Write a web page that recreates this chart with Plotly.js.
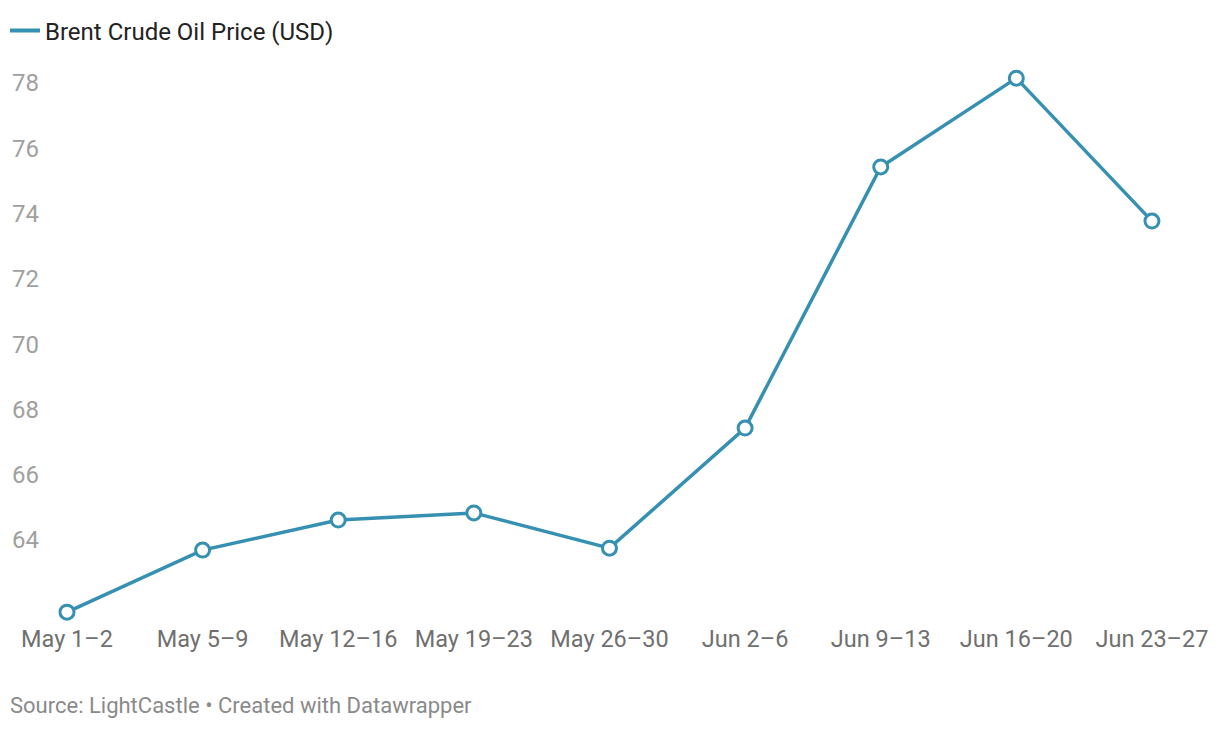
<!DOCTYPE html>
<html>
<head>
<meta charset="utf-8">
<script src="https://cdn.plot.ly/plotly-3.0.1.min.js"></script>
<style>
html,body{margin:0;padding:0;background:#fff;}
#chart{width:1220px;height:730px;}
</style>
</head>
<body>
<div id="chart"></div>
<script>
const weeks = ["May 1–2","May 5–9","May 12–16","May 19–23","May 26–30","Jun 2–6","Jun 9–13","Jun 16–20","Jun 23–27"];
const brentPrice = [61.79, 63.69, 64.61, 64.83, 63.75, 67.43, 75.43, 78.15, 73.77];
const yTicks = [64, 66, 68, 70, 72, 74, 76, 78];
const seriesName = "Brent Crude Oil Price (USD)";
const sourceText = "Source: LightCastle • Created with Datawrapper";

const xIdx = weeks.map((_, i) => i);
const color = "#3690b2";

const trace = {
  x: xIdx,
  y: brentPrice,
  type: "scatter",
  mode: "lines+markers",
  name: seriesName,
  showlegend: false,
  line: {color: color, width: 3.5},
  marker: {size: 14, color: "#ffffff", line: {color: color, width: 3}},
  cliponaxis: false,
  hoverinfo: "skip"
};

// legend entry shows only the line, as in the original key
const legendTrace = {
  x: [null],
  y: [null],
  type: "scatter",
  mode: "lines",
  name: seriesName,
  showlegend: true,
  line: {color: color, width: 4},
  hoverinfo: "skip"
};

const plotW = 1220 - 40 - 10;
const plotH = 730 - 60 - 110;

const layout = {
  width: 1220,
  height: 730,
  margin: {l: 40, r: 10, t: 60, b: 110, autoexpand: false},
  paper_bgcolor: "#ffffff",
  plot_bgcolor: "#ffffff",
  font: {family: "Roboto, 'Open Sans', sans-serif", size: 22, color: "#333"},
  showlegend: true,
  legend: {
    orientation: "h",
    x: -35/plotW, xanchor: "left",
    y: 1 + 29/plotH, yanchor: "middle",
    font: {size: 24, color: "#222"},
    itemwidth: 30,
    bgcolor: "rgba(0,0,0,0)"
  },
  xaxis: {
    range: [-0.199, 8.428],
    automargin: false,
    tickmode: "array",
    tickvals: xIdx,
    ticktext: weeks,
    showgrid: false,
    zeroline: false,
    showline: false,
    ticks: "",
    ticklabelstandoff: 2,
    tickfont: {size: 23.5, color: "#707070"},
    fixedrange: true
  },
  yaxis: {
    range: [61.549, 78.706],
    automargin: false,
    tickmode: "array",
    tickvals: yTicks,
    ticktext: yTicks.map(String),
    showgrid: false,
    zeroline: false,
    showline: false,
    ticks: "",
    tickfont: {size: 24, color: "#a0a0a0"},
    fixedrange: true
  },
  annotations: [{
    text: sourceText,
    xref: "paper", yref: "paper",
    x: -32/plotW, xanchor: "left",
    y: -(705-620)/plotH, yanchor: "middle",
    showarrow: false,
    font: {size: 22, color: "#8a8a8a"}
  }]
};

Plotly.newPlot("chart", [trace, legendTrace], layout, {displayModeBar: false, staticPlot: true});
</script>
</body>
</html>
